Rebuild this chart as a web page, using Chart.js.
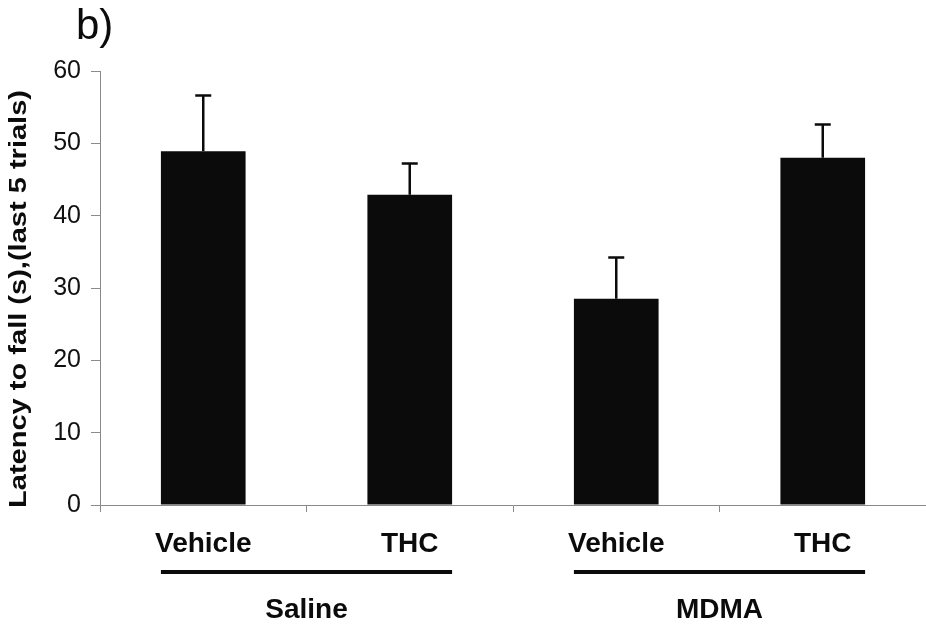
<!DOCTYPE html>
<html><head><meta charset="utf-8">
<script src="https://cdn.jsdelivr.net/npm/chart.js@4.4.1/dist/chart.umd.min.js"></script>
<style>html,body{margin:0;padding:0;background:#fff;}canvas{display:block;}</style>
</head><body>
<canvas id="c" width="926" height="626"></canvas>
<script>
// ---- data ----
const categories = ['Vehicle', 'THC', 'Vehicle', 'THC'];
const groupNames = ['Saline', 'MDMA'];
const groupMembers = [[0, 1], [2, 3]];
const means = [48.9, 42.9, 28.5, 48.0];
const errors = [7.7, 4.3, 5.7, 4.6];
const yTickValues = [0, 10, 20, 30, 40, 50, 60];
const panelLabel = 'b)';
const yTitle = 'Latency to fall (s),(last 5 trials)';

const INK = '#0b0b0b';
const AXIS = '#8a8a8a';

const errorBarPlugin = {
  id: 'errorBars',
  afterDatasetsDraw(chart) {
    const ctx = chart.ctx, y = chart.scales.y;
    const meta = chart.getDatasetMeta(0);
    ctx.save();
    ctx.strokeStyle = INK;
    ctx.lineWidth = 2.5;
    meta.data.forEach((bar, i) => {
      const top = y.getPixelForValue(means[i] + errors[i]);
      ctx.beginPath();
      ctx.moveTo(bar.x, bar.y);
      ctx.lineTo(bar.x, top);
      ctx.moveTo(bar.x - 8, top);
      ctx.lineTo(bar.x + 8, top);
      ctx.stroke();
    });
    ctx.restore();
  }
};

const decorPlugin = {
  id: 'decor',
  afterDraw(chart) {
    const ctx = chart.ctx;
    const meta = chart.getDatasetMeta(0);
    ctx.save();
    // panel label
    ctx.fillStyle = INK;
    ctx.font = '42px "Liberation Sans", Arial, sans-serif';
    ctx.textAlign = 'left';
    ctx.textBaseline = 'alphabetic';
    ctx.fillText(panelLabel, 76, 39);
    // group lines and labels
    groupMembers.forEach((idx, g) => {
      const a = meta.data[idx[0]], b = meta.data[idx[idx.length - 1]];
      const left = a.x - a.width / 2, right = b.x + b.width / 2;
      ctx.fillRect(left, 570, right - left, 4);
      ctx.font = 'bold 28px "Liberation Sans", Arial, sans-serif';
      ctx.textAlign = 'center';
      ctx.fillText(groupNames[g], (left + right) / 2, 618);
    });
    // y title (rotated)
    ctx.translate(20, 299);
    ctx.rotate(-Math.PI / 2);
    ctx.font = 'bold 23px "Liberation Sans", Arial, sans-serif';
    const w = ctx.measureText(yTitle).width;
    ctx.scale(418 / w, 1);
    ctx.textAlign = 'center';
    ctx.textBaseline = 'middle';
    ctx.fillText(yTitle, 0, 0);
    ctx.restore();
  }
};

new Chart(document.getElementById('c'), {
  type: 'bar',
  data: {
    labels: categories,
    datasets: [{
      data: means,
      backgroundColor: INK,
      borderWidth: 0,
      barPercentage: 0.41,
      categoryPercentage: 1.0
    }]
  },
  options: {
    responsive: false,
    animation: false,
    devicePixelRatio: 1,
    layout: { padding: { top: 71, left: 0, right: 0, bottom: 0 } },
    plugins: { legend: { display: false }, tooltip: { enabled: false }, title: { display: false } },
    scales: {
      y: {
        min: 0, max: 60,
        afterBuildTicks: (s) => { s.ticks = yTickValues.map(v => ({ value: v })); },
        afterFit: (s) => { s.width = 100; },
        border: { display: true, color: AXIS, width: 1 },
        grid: { drawOnChartArea: false, drawTicks: true, tickLength: 9, color: AXIS },
        ticks: { color: '#111', padding: 10, font: { family: '"Liberation Sans", Arial, sans-serif', size: 25 } }
      },
      x: {
        afterFit: (s) => { s.height = 121; },
        border: { display: true, color: AXIS, width: 1 },
        grid: { drawOnChartArea: false, drawTicks: true, tickLength: 7, color: AXIS, offset: true },
        ticks: { color: INK, padding: 15, font: { family: '"Liberation Sans", Arial, sans-serif', size: 28, weight: 'bold' } }
      }
    }
  },
  plugins: [errorBarPlugin, decorPlugin]
});
</script>
</body></html>
